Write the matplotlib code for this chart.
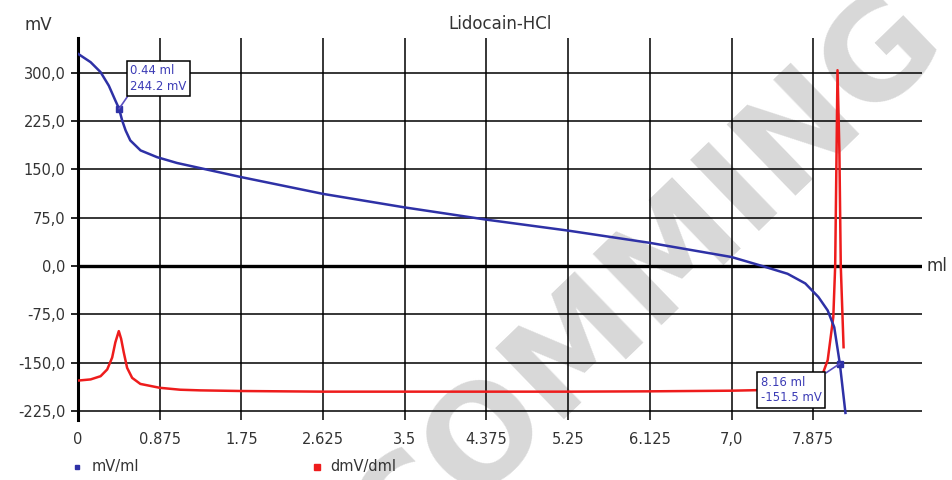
import numpy as np
import matplotlib
matplotlib.use('Agg')
import matplotlib.pyplot as plt
from matplotlib.lines import Line2D

# titration curve mV vs ml
vol_mv = [0, 0.135, 0.242, 0.33, 0.40, 0.44, 0.473, 0.51, 0.56, 0.67, 0.847, 1.06, 1.31,
          1.75, 2.625, 3.5, 4.375, 5.25, 6.125, 7.0, 7.33, 7.6, 7.79, 7.93, 8.03, 8.1,
          8.16, 8.22]
mv = [329.5, 316.5, 301, 280, 257, 244.2, 226, 210.5, 195, 179.5, 169, 160, 152,
      138, 112, 91, 72, 55, 36, 14, 0, -12, -27, -48, -69, -95,
      -151.5, -228]

# first derivative (scaled)
vol_d = [0, 0.135, 0.242, 0.313, 0.366, 0.40, 0.437, 0.462, 0.49, 0.526, 0.58, 0.668,
         0.875, 1.095, 1.31, 1.75, 2.625, 3.5, 4.375, 5.25, 6.125, 7.0, 7.5, 7.8, 7.9,
         7.97, 8.03, 8.09, 8.11, 8.125, 8.135, 8.155, 8.17, 8.20]
dmv = [-177.8, -176, -171, -160.5, -142, -118.5, -101, -113, -134, -158, -173.6, -183,
       -189, -192, -193, -194, -195, -195, -195, -195, -194.5, -193.5, -192, -190, -188,
       -170, -146, -79, 0, 180, 304, 180, 0, -126]

xticks = [0, 0.875, 1.75, 2.625, 3.5, 4.375, 5.25, 6.125, 7.0, 7.875]
xlabels = ['0', '0.875', '1.75', '2.625', '3.5', '4.375', '5.25', '6.125', '7,0', '7.875']
yticks = [300, 225, 150, 75, 0, -75, -150, -225]
ylabels = ['300,0', '225,0', '150,0', '75,0', '0,0', '-75,0', '-150,0', '-225,0']

marks = [(0.44, 244.2, '0.44 ml\n244.2 mV'), (8.16, -151.5, '8.16 ml\n-151.5 mV')]

blue = '#2e31a6'
red = '#ee1c1c'
txt = '#333333'

fig = plt.figure(figsize=(9.52, 4.8), dpi=100)
ax = fig.add_axes([78/952, 1-420/480, (922-78)/952, (420-38)/480])
ax.patch.set_alpha(0)

fig.text(0.680, 0.415, 'COMMING', rotation=44, fontsize=98, fontweight='bold',
         color='#d8d8d8', ha='center', va='center', zorder=-5)

ax.set_xlim(0, 9.04)
ax.set_ylim(-239, 354)
ax.set_xticks(xticks)
ax.set_xticklabels(xlabels)
ax.set_yticks(yticks)
ax.set_yticklabels(ylabels)
ax.grid(True, color='black', lw=1.1)
ax.set_axisbelow(True)
for s in ['top', 'right', 'bottom']:
    ax.spines[s].set_visible(False)
ax.spines['left'].set_linewidth(2.2)
ax.tick_params(axis='x', length=0, pad=9, labelsize=10.5, labelcolor=txt)
ax.tick_params(axis='y', length=5, width=1.2, pad=4, labelsize=10.5, labelcolor=txt)
ax.axhline(0, color='black', lw=2.4, zorder=1.5)

ax.plot(vol_d, dmv, color=red, lw=1.8, zorder=3)
ax.plot(vol_mv, mv, color=blue, lw=1.8, zorder=4)

offs = [((11, 16), 'left', 'bottom', (0, 0)), ((-18, -12), 'right', 'top', (1, 1))]
for (x, y, s), (o, ha, va, rp) in zip(marks, offs):
    ax.plot([x], [y], marker='s', ms=5, color=blue, zorder=5)
    ax.annotate(s, xy=(x, y), xytext=o, textcoords='offset pixels', ha=ha, va=va,
                multialignment='left', fontsize=8.4, color='#3b3bb5', linespacing=1.25,
                zorder=6,
                bbox=dict(boxstyle='square,pad=0.3', fc='white', ec='black', lw=1.1),
                arrowprops=dict(arrowstyle='-', color='#5a4fc0', lw=1.2, relpos=rp,
                                shrinkA=0, shrinkB=0))

fig.text(38/952, 1-25/480, 'mV', fontsize=12, color=txt, ha='center', va='center')
fig.text(500/952, 1-24/480, 'Lidocain-HCl', fontsize=12, color=txt, ha='center', va='center')
fig.text(927/952, 1-266/480, 'ml', fontsize=12, color=txt, ha='left', va='center')

fig.add_artist(Line2D([77/952], [1-467/480], marker='s', ms=3, color=blue, lw=0))
fig.text(92/952, 1-467/480, 'mV/ml', fontsize=10.5, color=txt, va='center')
fig.add_artist(Line2D([317/952], [1-467/480], marker='s', ms=4, color=red, lw=0))
fig.text(330/952, 1-467/480, 'dmV/dml', fontsize=10.5, color=txt, va='center')

fig.savefig('out.png', dpi=100)
